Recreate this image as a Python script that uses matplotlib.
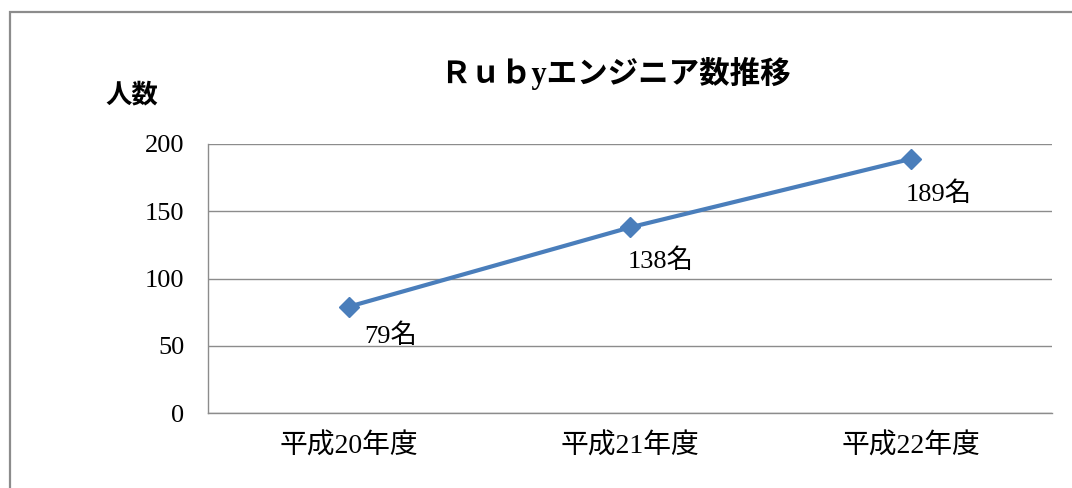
import matplotlib
matplotlib.use("Agg")
import matplotlib.pyplot as plt
from matplotlib.patches import Rectangle

categories = ["平成20年度", "平成21年度", "平成22年度"]
values = [79, 138, 189]
value_labels = ["79名", "138名", "189名"]
yticks = [0, 50, 100, 150, 200]
title = "Ｒｕｂyエンジニア数推移"
ylabel = "人数"

FAM = ["Liberation Serif", "Noto Sans CJK JP", "DejaVu Sans"]
plt.rcParams["font.family"] = FAM

W, H = 1072, 488
fig = plt.figure(figsize=(W / 100, H / 100), dpi=100)
fig.patch.set_facecolor("white")

# outer chart frame (extends beyond right/bottom edge)
fig.patches.append(Rectangle((10 / W, -0.1), 1.2, (H - 12) / H + 0.1,
                             transform=fig.transFigure, fill=False,
                             edgecolor="#8c8c8c", linewidth=1.6))

ax = fig.add_axes([208 / W, 75 / H, (1052 - 208) / W, (413 - 144) / H])
x = list(range(len(categories)))
ax.plot(x, values, color="#4a7ebb", linewidth=3, marker="D", markersize=10,
        markeredgecolor="#4a7ebb", markerfacecolor="#4a7ebb", zorder=3,
        clip_on=False)

ax.set_xlim(-0.5, len(categories) - 0.5)
ax.set_ylim(0, 200)
ax.set_yticks(yticks)
ax.set_xticks(x)
ax.set_xticklabels(categories, fontsize=20)
ax.tick_params(axis="y", labelsize=19, length=0, pad=17)
ax.tick_params(axis="x", length=0, pad=15)
ax.grid(axis="y", color="#8c8c8c", linewidth=1)
ax.set_axisbelow(True)
for s in ["top", "right"]:
    ax.spines[s].set_visible(False)
for s in ["left", "bottom"]:
    ax.spines[s].set_color("#8c8c8c")
    ax.spines[s].set_linewidth(1)

offsets = [(11, -21), (-2, -24), (-4, -25)]
for xi, v, lab, off in zip(x, values, value_labels, offsets):
    ax.annotate(lab, (xi, v), xytext=off, textcoords="offset points",
                ha="left", va="center", fontsize=19)

fig.text(615 / W, 1 - 73 / H, title, ha="center", va="center",
         fontsize=22, fontweight="bold")
fig.text(105 / W, 1 - 95 / H, ylabel, ha="left", va="center", fontsize=19,
         fontweight="bold")

fig.savefig("out.png", dpi=100)
